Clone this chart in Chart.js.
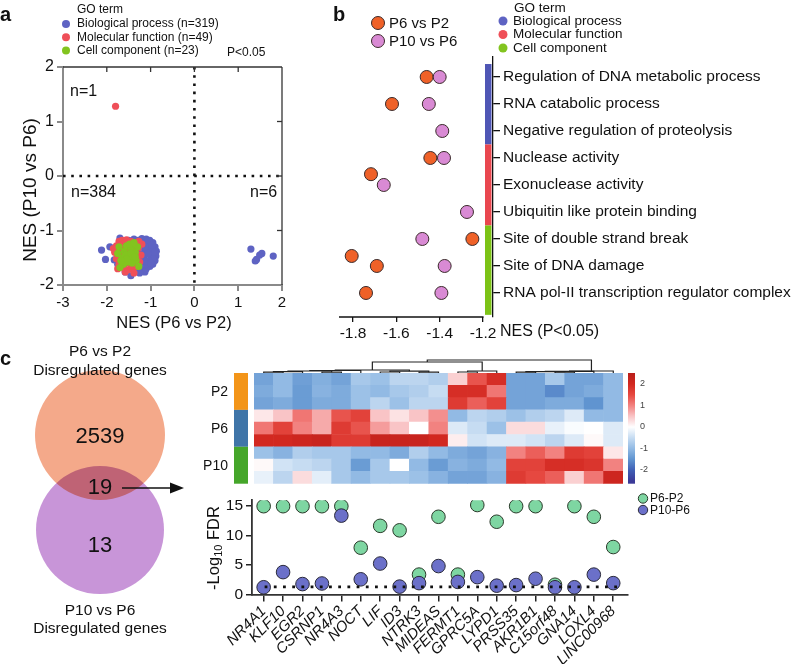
<!DOCTYPE html>
<html>
<head>
<meta charset="utf-8">
<script src="https://cdn.jsdelivr.net/npm/chart.js@4.4.1/dist/chart.umd.min.js"></script>
<style>
  body { margin: 0; background: #fff; }
  #page { position: relative; width: 796px; height: 664px; overflow: hidden; }
  canvas { position: absolute; }
</style>
</head>
<body>
<div id="page">
  <canvas id="nesScatter" style="left:0;top:0" width="300" height="340"></canvas>
  <canvas id="goDots" style="left:290px;top:0" width="506" height="345"></canvas>
  <canvas id="venn" style="left:0;top:340px" width="230" height="324"></canvas>
  <canvas id="dendro" style="left:254px;top:352px" width="369" height="21"></canvas>
  <canvas id="heat" style="left:200px;top:345px" width="470" height="145"></canvas>
  <canvas id="fdr" style="left:150px;top:488px" width="646" height="176"></canvas>
</div>
<script>
// ---- panel a: NES scatter of GO terms ----
const aXTicks = [-3, -2, -1, 0, 1, 2];
const aYTicks = [-2, -1, 0, 1, 2];
const goLegend = ["Biological process (n=319)", "Molecular function (n=49)", "Cell component (n=23)"];
const quadrantCounts = ["n=1", "n=384", "n=6"];
const bioPoints = [
  [-1.28,-1.18],[-1.2,-1.15],[-1.1,-1.16],[-1.02,-1.18],[-0.95,-1.22],[-0.9,-1.3],[-0.87,-1.38],[-0.88,-1.47],
  [-0.9,-1.55],[-0.95,-1.62],[-1.02,-1.66],[-1.1,-1.7],[-1.18,-1.72],[-1.25,-1.68],[-1.3,-1.6],[-1.15,-1.25],
  [-1.05,-1.28],[-0.98,-1.35],[-1.22,-1.3],[-1.12,-1.38],[-1.0,-1.45],[-0.95,-1.52],[-1.25,-1.42],[-1.15,-1.5],
  [-1.05,-1.55],[-1.2,-1.58],[-1.1,-1.62],[-1.3,-1.25],[-1.32,-1.35],[-1.28,-1.5],[-1.08,-1.2],[-0.92,-1.4],
  [-1.18,-1.45],[-1.0,-1.6],[-1.12,-1.3],[-1.22,-1.22],[-0.97,-1.27],[-1.06,-1.42],[-1.14,-1.56],[-1.26,-1.62],
  [-2.12,-1.36],[-2.03,-1.53],[-1.93,-1.3],[-1.7,-1.14],[-1.83,-1.54],[-1.45,-1.83],[-1.58,-1.76],[-1.13,-1.76],
  [-1.6,-1.22],[-1.38,-1.16],[-1.5,-1.18],[-1.75,-1.62],[-1.42,-1.7],[-1.35,-1.75],[-1.25,-1.78],
  [1.29,-1.34],[1.54,-1.42],[1.49,-1.45],[1.42,-1.53],[1.39,-1.56],[1.8,-1.47]
];
const molPoints = [
  [-1.8,1.28],
  [-1.78,-1.28],[-1.72,-1.2],[-1.65,-1.18],[-1.55,-1.17],[-1.45,-1.2],[-1.38,-1.22],[-1.82,-1.4],[-1.78,-1.52],
  [-1.72,-1.62],[-1.62,-1.68],[-1.52,-1.72],[-1.42,-1.7],[-1.32,-1.66],[-1.25,-1.58],[-1.22,-1.45],[-1.28,-1.32],
  [-1.6,-1.3],[-1.5,-1.38],[-1.68,-1.45],[-1.4,-1.52],[-1.55,-1.6],[-1.35,-1.42],[-1.7,-1.35],[-1.45,-1.62],
  [-1.6,-1.5],[-1.3,-1.55],[-1.48,-1.28],[-1.85,-1.33],[-1.2,-1.25],[-1.58,-1.76],[-1.38,-1.78],[-1.65,-1.25],
  [-1.75,-1.7],[-1.5,-1.48],[-1.42,-1.35],[-1.27,-1.2]
];
const cellPoints = [
  [-1.75,-1.42],[-1.72,-1.3],[-1.65,-1.5],[-1.6,-1.38],[-1.55,-1.28],[-1.5,-1.45],[-1.45,-1.32],[-1.4,-1.5],
  [-1.35,-1.4],[-1.3,-1.3],[-1.33,-1.55],[-1.42,-1.6],[-1.52,-1.58],[-1.62,-1.62],[-1.7,-1.68],[-1.27,-1.66],
  [-1.48,-1.25],[-1.38,-1.22],[-1.58,-1.45],[-1.45,-1.42],[-1.35,-1.48],[-1.55,-1.52],[-1.68,-1.55]
];

// ---- panel b: enriched GO terms ----
const goTerms = [
  "Regulation of DNA metabolic process", "RNA catabolic process", "Negative regulation of proteolysis",
  "Nuclease activity", "Exonuclease activity", "Ubiquitin like protein binding",
  "Site of double strand break", "Site of DNA damage", "RNA pol-II transcription regulator complex"
];
const bXTicks = [-1.8, -1.6, -1.4, -1.2];
const p6p2Nes = [-1.46, -1.62, -1.443, -1.717, -1.249, -1.806, -1.69, -1.74];
const p6p2Row = [1, 2, 4, 4.6, 7, 7.63, 8, 9];
const p10p6Nes = [-1.40, -1.45, -1.388, -1.38, -1.658, -1.274, -1.48, -1.377, -1.392];
const p10p6Row = [1, 2, 3, 4, 5, 6, 7, 8, 9];
const goBands = [[0.52, 3.5], [3.5, 6.5], [6.5, 9.81]];
const goNames = ["Biological process", "Molecular function", "Cell component"];

// ---- panel c ----
const vennCounts = [2539, 19, 13];
const vennCircles = [[100, 95, 65], [100, 190, 64]];
const geneNames = ["NR4A1","KLF10","EGR2","CSRNP1","NR4A3","NOCT","LIF","ID3","NTRK3","MIDEAS",
  "FERMT1","GPRC5A","LYPD1","PRSS35","AKR1B1","C15orf48","GNA14","LOXL4","LINC00968"];
const heatGroups = ["P2", "P6", "P10"];
const heatZ = [
  [-1.3,-1.0,-1.35,-1.15,-1.3,-0.8,-0.9,-0.6,-0.6,-0.7,0.4,1.4,1.9,-1.3,-1.3,-0.8,-1.3,-1.3,-1.0],
  [-1.2,-1.0,-1.4,-1.1,-1.2,-0.9,-1.0,-0.8,-0.7,-0.5,1.9,1.9,1.1,-1.3,-1.3,-1.6,-1.3,-1.2,-1.0],
  [-1.3,-1.2,-1.4,-1.2,-1.2,-0.9,-0.6,-0.9,-0.6,-0.6,1.7,1.3,1.6,-1.3,-1.3,-1.2,-1.2,-1.5,-1.0],
  [0.2,0.5,1.1,0.7,1.4,1.6,0.5,0.25,0.5,0.9,-1.0,-0.6,-0.7,-0.9,-0.7,-0.6,-0.3,-1.0,-1.0],
  [1.1,1.6,1.0,0.7,1.7,1.4,0.8,0.5,0.0,1.0,-0.3,-0.5,-0.9,0.3,0.3,-0.2,-0.05,0.0,-0.3],
  [2.0,2.0,2.1,2.2,1.7,1.7,2.2,2.2,2.2,2.0,0.15,-0.4,-0.3,-0.3,-0.4,-0.6,-0.3,0.05,-0.3],
  [-0.9,-1.1,-0.7,-0.8,-0.8,-1.0,-1.0,-1.2,-0.7,-1.0,-1.2,-1.3,-1.1,1.0,1.3,1.0,1.7,1.6,0.2],
  [0.05,-0.4,-0.5,-0.6,-0.8,-1.4,-0.8,0.0,-1.0,-1.4,-1.1,-1.2,-1.0,1.6,1.6,1.9,1.9,1.8,1.0],
  [-0.2,-0.6,0.3,-0.25,-0.8,-1.0,-0.8,-0.8,-0.9,-1.1,-1.3,-1.3,-1.1,1.7,1.5,1.3,0.4,1.1,2.1]
];
const zTicks = [2, 1, 0, -1, -2];
// dendrogram links: [left x, left h, right x, right h, join h]
const dendroLinks = [
  [0,0,1,0,0.8],[0.5,0.8,2,0,1.4],[3,0,4,0,0.8],[1.25,1.4,3.5,0.8,2],[2.375,2,5,0,2.5],
  [6,0,7,0,1],[8,0,9,0,0.8],[6.5,1,8.5,0.8,1.8],[3.6875,2.5,7.5,1.8,3],
  [10,0,11,0,1],[10.5,1,12,0,2],[5.59375,3,11.25,2,11],
  [13,0,14,0,0.8],[15,0,16,0,0.8],[13.5,0.8,15.5,0.8,1.3],[14.5,1.3,17,0,1.6],[15.75,1.6,18,0,2],
  [8.421875,11,16.875,2,13]
];
const fdrP6P2 = [15,15,15,15,15,7.95,11.66,10.9,3.38,13.2,3.38,15.2,12.36,15,15,1.66,15,13.2,8.06];
const fdrP10P6 = [1.23,3.8,1.77,1.87,13.4,2.58,5.26,1.34,1.93,4.83,2.14,2.95,1.5,1.6,2.68,1.23,1.23,3.38,1.93];
const fdrTicks = [0, 5, 10, 15];
const fdrCut = 1.3;

const FONT = "'Liberation Sans', Arial, Helvetica, sans-serif";
Chart.defaults.font.family = FONT;
Chart.defaults.color = "#111";
Chart.defaults.animation = false;
Chart.defaults.events = [];
Chart.defaults.layout.autoPadding = false;
Chart.defaults.plugins.legend.display = false;
Chart.defaults.plugins.tooltip.enabled = false;

function txt(ctx, s, x, y, size, o = {}) {
  ctx.save();
  ctx.font = `${o.style || ""} ${o.weight || "normal"} ${size}px ${FONT}`;
  ctx.fillStyle = o.color || "#111";
  ctx.textAlign = o.align || "left";
  ctx.textBaseline = o.base || "middle";
  ctx.translate(x, y);
  if (o.rotate) ctx.rotate(o.rotate);
  ctx.fillText(s, 0, 0);
  ctx.restore();
}
function dot(ctx, x, y, r, fill, stroke) {
  ctx.beginPath();
  ctx.arc(x, y, r, 0, Math.PI * 2);
  ctx.fillStyle = fill;
  ctx.fill();
  if (stroke) { ctx.lineWidth = 1; ctx.strokeStyle = stroke; ctx.stroke(); }
}
function seg(ctx, x1, y1, x2, y2, color, w, dash) {
  ctx.save();
  ctx.beginPath();
  ctx.setLineDash(dash || []);
  ctx.moveTo(x1, y1); ctx.lineTo(x2, y2);
  ctx.strokeStyle = color; ctx.lineWidth = w;
  ctx.stroke();
  ctx.restore();
}
const pts = arr => arr.map(p => ({ x: p[0], y: p[1] }));
const fixTicks = vals => s => { s.ticks = vals.map(v => ({ value: v })); };

// ---------- panel a ----------
const aColors = ["#5e63c3", "#ef4f58", "#82c41f"];
new Chart(document.getElementById("nesScatter"), {
  type: "scatter",
  data: {
    datasets: [bioPoints, molPoints, cellPoints].map((d, i) => ({
      label: goLegend[i], data: pts(d), backgroundColor: aColors[i],
      pointRadius: 3.6, borderWidth: 0, order: 3 - i
    }))
  },
  options: {
    responsive: false,
    layout: { padding: { top: 67, right: 18, left: 0, bottom: 0 } },
    scales: {
      x: {
        type: "linear", min: -3, max: 2,
        afterFit: s => { s.height = 55; }, afterBuildTicks: fixTicks(aXTicks),
        grid: { drawOnChartArea: false, tickLength: 6, color: "#8a8a8a", lineWidth: 2 },
        border: { color: "#8a8a8a", width: 2 },
        ticks: { font: { size: 15 }, color: "#111", padding: 3 }
      },
      y: {
        type: "linear", min: -2, max: 2,
        afterFit: s => { s.width = 63; }, afterBuildTicks: fixTicks(aYTicks),
        grid: { drawOnChartArea: false, tickLength: 6, color: "#8a8a8a", lineWidth: 2 },
        border: { color: "#8a8a8a", width: 2 },
        ticks: { font: { size: 16 }, color: "#111", padding: 3 }
      }
    }
  },
  plugins: [{
    id: "panelA",
    beforeDatasetsDraw(chart) {
      const { ctx, chartArea: a, scales: { x, y } } = chart;
      seg(ctx, x.getPixelForValue(0), a.top, x.getPixelForValue(0), a.bottom, "#111", 2.6, [2.6, 5.6]);
      seg(ctx, a.left, y.getPixelForValue(0), a.right, y.getPixelForValue(0), "#111", 2.6, [2.6, 5.6]);
    },
    afterDraw(chart) {
      const { ctx, chartArea: a, scales: { x, y } } = chart;
      seg(ctx, a.left, a.top, a.right, a.top, "#333", 1.3);
      seg(ctx, a.right, a.top, a.right, a.bottom, "#333", 1.3);
      aXTicks.slice(1, -1).forEach(v => seg(ctx, x.getPixelForValue(v), a.top, x.getPixelForValue(v), a.top + 5, "#333", 1.3));
      aYTicks.slice(1, -1).forEach(v => seg(ctx, a.right, y.getPixelForValue(v), a.right - 5, y.getPixelForValue(v), "#333", 1.3));
      txt(ctx, quadrantCounts[0], 70, 92, 16);
      txt(ctx, quadrantCounts[1], 71, 193, 16);
      txt(ctx, quadrantCounts[2], 250, 193, 16);
      txt(ctx, "P<0.05", 227, 53, 12);
      txt(ctx, "GO term", 77, 10, 12);
      goLegend.forEach((s, i) => {
        dot(ctx, 66, 24 + i * 13.3, 4, aColors[i]);
        txt(ctx, s, 77, 24 + i * 13.3, 12);
      });
      txt(ctx, "NES (P6 vs P2)", 174, 323, 16.5, { align: "center" });
      txt(ctx, "NES (P10 vs P6)", 31, 190, 19, { align: "center", rotate: -Math.PI / 2 });
      txt(ctx, "a", 0, 21, 20, { weight: "bold", base: "alphabetic" });
    }
  }]
});

// ---------- panel b ----------
const bandColors = ["#4f56b5", "#e9474f", "#7cc316"];
const orange = "#ef6128", pink = "#d98ad4";
new Chart(document.getElementById("goDots"), {
  type: "scatter",
  data: {
    datasets: [
      { data: p6p2Nes.map((v, i) => ({ x: v, y: p6p2Row[i] })), backgroundColor: orange, borderColor: "#3a2a2a",
        borderWidth: 1, pointRadius: 6.5, order: 2 },
      { data: p10p6Nes.map((v, i) => ({ x: v, y: p10p6Row[i] })), backgroundColor: pink, borderColor: "#3a2a2a",
        borderWidth: 1, pointRadius: 6.5, order: 1 }
    ]
  },
  options: {
    responsive: false,
    layout: { padding: { top: 57, left: 49, right: 0, bottom: 0 } },
    scales: {
      x: {
        type: "linear", min: -1.8646, max: -1.1538,
        afterFit: s => { s.height = 28; }, afterBuildTicks: fixTicks(bXTicks),
        grid: { drawOnChartArea: false, tickLength: 5, color: "#111", lineWidth: 1.3 },
        border: { display: false },
        ticks: { font: { size: 15.5 }, color: "#111", padding: 2, callback: v => v.toFixed(1) }
      },
      y: {
        type: "linear", position: "right", reverse: true, min: 0.26, max: 9.89,
        afterFit: s => { s.width = 303; }, afterBuildTicks: fixTicks(goTerms.map((_, i) => i + 1)),
        grid: { drawOnChartArea: false, tickLength: 7, color: "#111", lineWidth: 1.3 },
        border: { color: "#111", width: 1.3 },
        ticks: { font: { size: 15.5 }, color: "#111", padding: 3, autoSkip: false, callback: v => goTerms[v - 1] }
      }
    }
  },
  plugins: [{
    id: "panelB",
    afterDraw(chart) {
      const { ctx, chartArea: a, scales: { x, y } } = chart;
      seg(ctx, a.left, a.bottom, x.getPixelForValue(-1.2) + 0.6, a.bottom, "#111", 1.3);
      goBands.forEach((b, i) => {
        ctx.fillStyle = bandColors[i];
        ctx.fillRect(195, y.getPixelForValue(b[0]), 6.5, y.getPixelForValue(b[1]) - y.getPixelForValue(b[0]));
      });
      txt(ctx, "NES (P<0.05)", 210, 332, 16);
      dot(ctx, 88, 23, 6.5, orange, "#3a2a2a");
      txt(ctx, "P6 vs P2", 99, 24, 15);
      dot(ctx, 88, 41, 6.5, pink, "#3a2a2a");
      txt(ctx, "P10 vs P6", 99, 42, 15);
      txt(ctx, "GO term", 224, 8, 13.5);
      goNames.forEach((s, i) => {
        dot(ctx, 213, 21 + i * 13.5, 4.5, aColors[i]);
        txt(ctx, s, 223, 21 + i * 13.5, 13.5);
      });
      txt(ctx, "b", 43, 21, 20, { weight: "bold", base: "alphabetic" });
    }
  }]
});

// ---------- panel c: venn ----------
new Chart(document.getElementById("venn"), {
  type: "bubble",
  data: {
    datasets: [
      { data: [{ x: vennCircles[0][0], y: vennCircles[0][1], r: vennCircles[0][2] }], backgroundColor: "#f4a98a",
        borderWidth: 0, clip: false, order: 2 },
      { data: [{ x: vennCircles[1][0], y: vennCircles[1][1], r: vennCircles[1][2] }], backgroundColor: "#c895d8",
        borderWidth: 0, clip: false, order: 1 }
    ]
  },
  options: {
    responsive: false,
    layout: { padding: 0 },
    scales: {
      x: { type: "linear", min: 0, max: 230, display: false },
      y: { type: "linear", min: 0, max: 324, reverse: true, display: false }
    }
  },
  plugins: [{
    id: "vennText",
    beforeDatasetDraw(chart, args) { if (args.index === 1) chart.ctx.globalCompositeOperation = "multiply"; },
    afterDatasetDraw(chart, args) { if (args.index === 1) chart.ctx.globalCompositeOperation = "source-over"; },
    afterDraw(chart) {
      const { ctx, scales: { x, y } } = chart;
      const cx = x.getPixelForValue(vennCircles[0][0]);
      txt(ctx, "P6 vs P2", cx, 12, 15.5, { align: "center" });
      txt(ctx, "Disregulated genes", cx, 31, 15.5, { align: "center" });
      txt(ctx, String(vennCounts[0]), cx, y.getPixelForValue(97), 22, { align: "center" });
      txt(ctx, String(vennCounts[1]), cx, y.getPixelForValue(148), 22, { align: "center" });
      txt(ctx, String(vennCounts[2]), cx, y.getPixelForValue(206), 22, { align: "center" });
      txt(ctx, "P10 vs P6", cx, 271, 15.5, { align: "center" });
      txt(ctx, "Disregulated genes", cx, 289, 15.5, { align: "center" });
      seg(ctx, 122, 148, 172, 148, "#111", 1.5);
      ctx.beginPath();
      ctx.moveTo(184, 148); ctx.lineTo(170, 142.5); ctx.lineTo(170, 153.5); ctx.closePath();
      ctx.fillStyle = "#111"; ctx.fill();
      txt(ctx, "c", 0, 25, 20, { weight: "bold", base: "alphabetic" });
    }
  }]
});

// ---------- panel c: dendrogram ----------
new Chart(document.getElementById("dendro"), {
  type: "line",
  data: {
    datasets: dendroLinks.map(([xl, hl, xr, hr, h]) => ({
      data: [{ x: xl, y: hl }, { x: xl, y: h }, { x: xr, y: h }, { x: xr, y: hr }],
      borderColor: "#222", borderWidth: 1.2, pointRadius: 0, tension: 0, fill: false
    }))
  },
  options: {
    responsive: false,
    layout: { padding: 0 },
    scales: {
      x: { type: "linear", min: -0.5, max: 18.5, display: false },
      y: { type: "linear", min: 0, max: 21, display: false }
    }
  }
});

// ---------- panel c: heatmap ----------
const zStops = [
  [-2.5, [59, 58, 152]], [-2, [64, 96, 182]], [-1.5, [96, 148, 208]], [-1, [146, 186, 228]],
  [-0.5, [198, 220, 242]], [0, [255, 255, 255]], [0.5, [249, 196, 198]], [1, [242, 130, 128]],
  [1.5, [230, 72, 64]], [2, [210, 40, 32]], [2.5, [185, 30, 26]]
];
function zColor(z) {
  z = Math.max(-2.5, Math.min(2.5, z));
  for (let i = 1; i < zStops.length; i++) {
    if (z <= zStops[i][0]) {
      const [z0, c0] = zStops[i - 1], [z1, c1] = zStops[i];
      const t = (z - z0) / (z1 - z0);
      const c = c0.map((v, k) => Math.round(v + (c1[k] - v) * t));
      return `rgb(${c[0]},${c[1]},${c[2]})`;
    }
  }
  return "rgb(185,30,26)";
}
const groupColors = ["#f39519", "#3f75a8", "#45a62a"];
new Chart(document.getElementById("heat"), {
  type: "bar",
  data: {
    labels: geneNames,
    datasets: heatZ.slice().reverse().map(row => ({
      data: row.map(() => 1), backgroundColor: row.map(zColor), borderWidth: 0,
      barPercentage: 1, categoryPercentage: 1
    }))
  },
  options: {
    responsive: false,
    layout: { padding: { left: 54, top: 28, right: 47, bottom: 6.3 } },
    scales: {
      x: { stacked: true, display: false },
      y: { stacked: true, min: 0, max: 9, display: false }
    }
  },
  plugins: [{
    id: "heatDecor",
    afterDraw(chart) {
      const { ctx, chartArea: a, scales: { y } } = chart;
      heatGroups.forEach((g, i) => {
        const top = y.getPixelForValue(9 - i * 3), bot = y.getPixelForValue(6 - i * 3);
        ctx.fillStyle = groupColors[i];
        ctx.fillRect(34, top, 14, bot - top);
        txt(ctx, g, 28, (top + bot) / 2 + 1, 14, { align: "right" });
      });
      const zToY = z => 82 - z * 21.5;
      const grad = ctx.createLinearGradient(0, a.top, 0, a.bottom);
      zStops.forEach(([z, c]) => {
        const off = (zToY(z) - a.top) / (a.bottom - a.top);
        if (off >= 0 && off <= 1) grad.addColorStop(off, `rgb(${c[0]},${c[1]},${c[2]})`);
      });
      grad.addColorStop(0, zColor(2.5));
      grad.addColorStop(1, zColor(-2.5));
      ctx.fillStyle = grad;
      ctx.fillRect(428, a.top, 7, a.bottom - a.top);
      zTicks.forEach(z => txt(ctx, String(z), 440, zToY(z), 9, { color: "#444" }));
    }
  }]
});

// ---------- panel c: FDR dots ----------
new Chart(document.getElementById("fdr"), {
  type: "scatter",
  data: {
    datasets: [
      { data: [{ x: 0.05, y: fdrCut }, { x: 18.35, y: fdrCut }], showLine: true, borderColor: "#111",
        borderWidth: 2.8, borderDash: [2.8, 6.4], pointRadius: 0, order: 0 },
      { data: fdrP10P6.map((v, i) => ({ x: i, y: v })), backgroundColor: "#6b70c9", borderColor: "#2a2a3a",
        borderWidth: 1, pointRadius: 6.8, order: 1 },
      { data: fdrP6P2.map((v, i) => ({ x: i, y: v })), backgroundColor: "#7ed6a2", borderColor: "#2a3a2a",
        borderWidth: 1, pointRadius: 6.8, order: 2 }
    ]
  },
  options: {
    responsive: false,
    layout: { padding: { top: 7, right: 168, left: 0, bottom: 0 } },
    scales: {
      x: {
        type: "linear", min: -0.6, max: 18.76,
        afterFit: s => { s.height = 69.5; }, afterBuildTicks: fixTicks(geneNames.map((_, i) => i)),
        grid: { drawOnChartArea: false, tickLength: 7, color: "#222", lineWidth: 1.5 },
        border: { color: "#333", width: 1.8 },
        ticks: { font: { size: 15, style: "italic" }, color: "#111", padding: 1, autoSkip: false,
          minRotation: 45, maxRotation: 45, callback: v => geneNames[v] }
      },
      y: {
        type: "linear", min: 0, max: 16,
        afterFit: s => { s.width = 102; }, afterBuildTicks: fixTicks(fdrTicks),
        grid: { drawOnChartArea: false, tickLength: 6, color: "#222", lineWidth: 1.5 },
        border: { color: "#333", width: 1.8 },
        ticks: { font: { size: 15.5 }, color: "#111", padding: 3 }
      }
    }
  },
  plugins: [{
    id: "fdrDecor",
    afterDraw(chart) {
      const { ctx } = chart;
      dot(ctx, 493, 10.5, 4.7, "#7ed6a2", "#2a3a2a");
      txt(ctx, "P6-P2", 500, 11, 12);
      dot(ctx, 493, 22, 4.7, "#6b70c9", "#2a2a3a");
      txt(ctx, "P10-P6", 500, 23, 12);
      // rotated y title with subscript
      ctx.save();
      ctx.translate(64, 60);
      ctx.rotate(-Math.PI / 2);
      ctx.fillStyle = "#111";
      ctx.textBaseline = "middle";
      ctx.font = `16.5px ${FONT}`;
      const w1 = ctx.measureText("-Log").width, w3 = ctx.measureText(" FDR").width;
      ctx.font = `11px ${FONT}`;
      const w2 = ctx.measureText("10").width;
      let x0 = -(w1 + w2 + w3) / 2;
      ctx.font = `16.5px ${FONT}`;
      ctx.fillText("-Log", x0, 0);
      ctx.font = `11px ${FONT}`;
      ctx.fillText("10", x0 + w1, 5);
      ctx.font = `16.5px ${FONT}`;
      ctx.fillText(" FDR", x0 + w1 + w2, 0);
      ctx.restore();
    }
  }]
});
</script>
</body>
</html>
